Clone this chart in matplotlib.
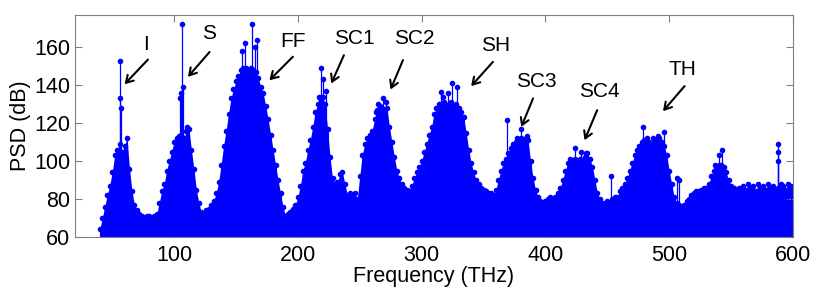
import numpy as np
import matplotlib
matplotlib.use("Agg")
import matplotlib.pyplot as plt

plt.rcParams['font.family'] = ['Liberation Sans', 'DejaVu Sans']

# envelope of the spectrum, read every 2 THz from 40 to 600 THz
freq = np.arange(40, 601, 2)
psd_env = [
    64, 70, 76, 82, 87, 94, 103, 106, 109, 105,
    108, 112, 96, 84, 77, 74, 72, 71, 70, 71,
    71, 70, 71, 72, 78, 84, 88, 95, 100, 105,
    110, 112, 113, 114, 112, 116, 117, 106, 96, 85,
    78, 73, 72, 74, 75, 77, 79, 83, 89, 98,
    108, 116, 125, 133, 138, 142, 145, 148, 149, 149,
    148, 149, 148, 147, 144, 139, 136, 129, 122, 114,
    106, 98, 90, 83, 76, 71, 72, 73, 75, 77,
    81, 87, 95, 99, 106, 111, 118, 126, 130, 133,
    134, 130, 117, 102, 91, 88, 89, 93, 94, 88,
    82, 83, 82, 83, 80, 92, 103, 109, 112, 114,
    116, 122, 127, 129, 128, 126, 128, 118, 110, 102,
    95, 91, 88, 86, 85, 84, 87, 91, 94, 97,
    100, 105, 109, 114, 118, 125, 128, 130, 129, 131,
    129, 130, 131, 129, 130, 128, 126, 123, 115, 106,
    99, 94, 90, 88, 86, 85, 84, 83, 83, 82,
    85, 90, 95, 99, 101, 104, 107, 109, 110, 111,
    112, 110, 112, 111, 100, 91, 85, 81, 79, 78,
    79, 80, 81, 80, 81, 83, 86, 90, 95, 99,
    101, 100, 101, 100, 101, 100, 102, 104, 101, 97,
    90, 83, 80, 78, 78, 79, 78, 80, 81, 81,
    84, 86, 88, 91, 95, 99, 103, 106, 108, 110,
    111, 112, 110, 109, 110, 111, 112, 110, 108, 103,
    95, 88, 81, 78, 77, 76, 77, 79, 80, 82,
    83, 84, 84, 85, 86, 86, 88, 92, 95, 97,
    98, 98, 97, 94, 90, 87, 86, 85, 86, 86,
    87, 85, 88, 86, 87, 84, 88, 86, 87, 85,
    88, 86, 87, 85, 86, 88, 87, 85, 88, 87,
    86,
]

# isolated tall lines sticking out of the envelope
spike_f = [56.5, 56, 57, 106.6, 107, 106, 104.5, 110.5,
           163, 157.5, 167, 155, 165, 219, 220, 222.5, 217,
           268.7, 265, 271.5, 263, 315.5, 317, 324.4, 328.5, 321,
           369, 380.5, 377, 385.5, 423.5, 429, 433, 453,
           479, 495.4, 487, 491, 508, 506, 542.5, 540, 537,
           588, 588, 588]
spike_db = [153, 133, 128, 172, 139, 136, 133, 118,
            172, 162, 164, 158, 160, 149, 143, 137, 134,
            133, 130, 131, 126, 136.5, 134, 141, 139, 136,
            121.6, 117, 112, 113, 107, 105, 104, 92,
            118, 115.4, 112, 113, 90, 91, 106, 103, 98,
            109, 105, 100]

# peak labels: text position, arrow tail, arrow head
labels = ["I", "S", "FF", "SC1", "SC2", "SH", "SC3", "SC4", "TH"]
label_xy = [(77.5, 161.5), (128.4, 167.4), (196, 162.8), (245.8, 164.6),
            (294.3, 164.6), (359.5, 161), (392.6, 141.7), (443.7, 136.5),
            (511, 148.3)]
arrow_tail = [(78.9, 153.5), (128.7, 157.5), (196, 155), (237.2, 155.8),
              (284.9, 153.2), (357.6, 152.3), (390, 133), (441.8, 126.8),
              (512.4, 139.5)]
arrow_head = [(60, 140.5), (111.2, 144.4), (177, 142.6), (227, 140.9),
              (274.9, 137.7), (340, 139.5), (380.5, 118), (431.6, 111),
              (495, 126.3)]

fig = plt.figure(figsize=(8.3, 2.94), dpi=100)
ax = fig.add_axes([0.0904, 0.194, 0.865, 0.755])

ax.fill_between(freq, 50, psd_env, color='blue', lw=0)
ax.vlines(freq, 50, psd_env, color='blue', lw=0.8)
ax.plot(freq, psd_env, '.', color='blue', ms=6)
ax.vlines(spike_f, 50, spike_db, color='blue', lw=0.9)
ax.plot(spike_f, spike_db, '.', color='blue', ms=6)

for lab, xy, tail, head in zip(labels, label_xy, arrow_tail, arrow_head):
    ax.text(xy[0], xy[1], lab, fontsize=15, ha='center', va='center')
    ax.annotate('', xy=head, xytext=tail,
                arrowprops=dict(arrowstyle='->,head_length=0.5,head_width=0.3',
                                color='black', lw=1.5, shrinkA=0, shrinkB=0))

ax.set_xlim(20, 600)
ax.set_ylim(60, 177)
ax.set_xticks([100, 200, 300, 400, 500, 600])
ax.set_yticks([60, 80, 100, 120, 140, 160])
ax.tick_params(direction='in', top=True, right=True, labelsize=15.5,
               length=5, color='#808080')
ax.tick_params(axis='x', pad=6)
for s in ax.spines.values():
    s.set_color('#808080')
ax.set_xlabel("Frequency (THz)", fontsize=15.5, labelpad=0)
ax.set_ylabel("PSD (dB)", fontsize=15.5, labelpad=2)

fig.savefig("out.png", dpi=100)
